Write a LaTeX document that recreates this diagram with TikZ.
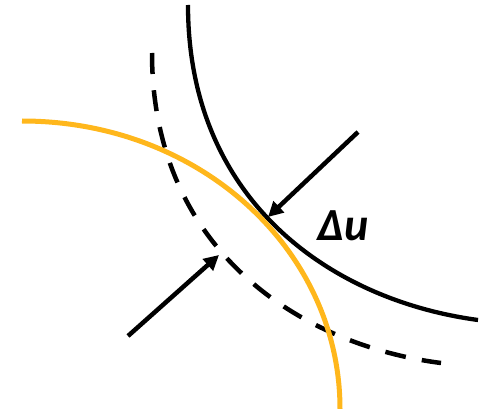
\documentclass[tikz,border=0pt]{standalone}
\usepackage{fontspec}
\setmainfont{Carlito}
\usetikzlibrary{arrows.meta}
\definecolor{curveorange}{RGB}{255,183,28}
\begin{document}
\begin{tikzpicture}[x=1pt,y=-1pt,
  solidcurve/.style={line width=4.3pt},
  dashcurve/.style={line width=4.5pt,dash pattern=on 21pt off 16.3pt},
  orangecurve/.style={line width=5pt,draw=curveorange},
  arrowline/.style={line width=4.5pt,-{Triangle[length=15pt,width=15pt]}},
  lbl/.style={font=\fontsize{46}{46}\selectfont\bfseries\itshape}]
\useasboundingbox (0,0) rectangle (480,409);
\draw[solidcurve] (188,5) .. controls (188,200) and (330,300) .. (478,320);
\draw[dashcurve] (152,53) .. controls (152,250) and (300,345) .. (441,363);
\draw[orangecurve] (22,121) .. controls (200,121) and (340,250) .. (340,409);
\coordinate (a1s) at (358,132);
\coordinate (a1e) at (268,217);
\coordinate (a2s) at (128,336);
\coordinate (a2e) at (219,255);
\draw[arrowline] (a1s) -- (a1e);
\draw[arrowline] (a2s) -- (a2e);
\node[lbl] (du) at (343,226) {Δu};
\end{tikzpicture}
\end{document}
